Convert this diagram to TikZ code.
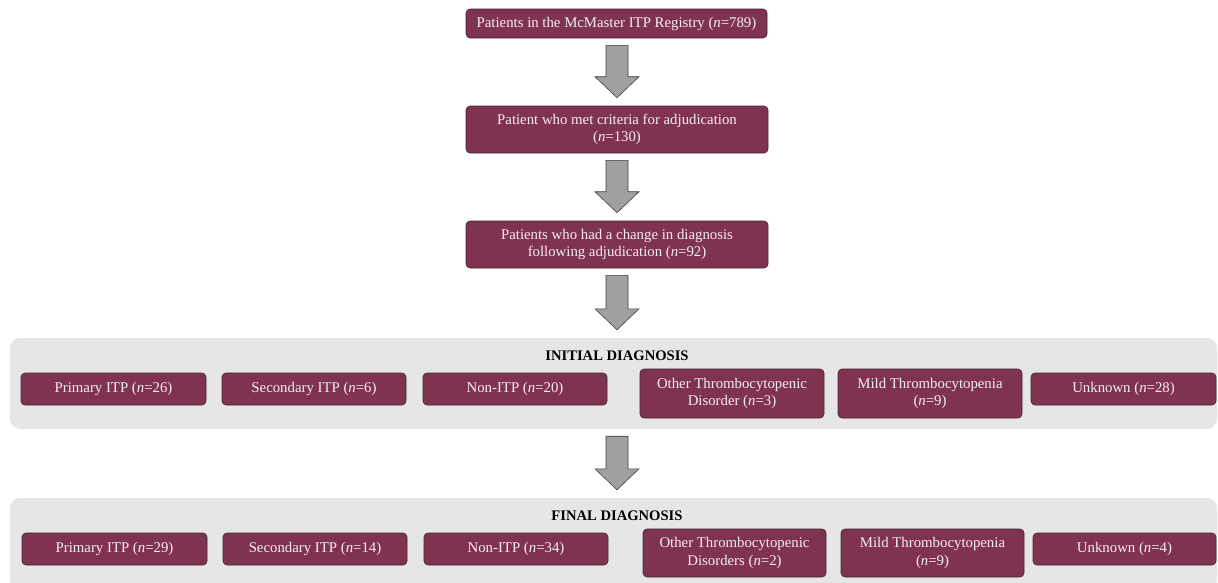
\documentclass[tikz,border=0pt]{standalone}
\usepackage{fontspec}
\setmainfont{Liberation Serif}
\usetikzlibrary{calc}
\definecolor{maroon}{RGB}{128,51,80}
\definecolor{boxline}{RGB}{60,40,48}
\definecolor{panelgray}{RGB}{230,230,230}
\definecolor{arrowgray}{RGB}{160,160,160}
\definecolor{arrowline}{RGB}{64,64,64}
\definecolor{boxtext}{RGB}{245,238,241}
\tikzset{
  box/.style={draw=boxline, line width=0.6pt, fill=maroon, rounded corners=4pt,
    text=boxtext, align=center, inner sep=0pt,
    font=\fontsize{14.8}{17.5}\selectfont},
  panel/.style={fill=panelgray, rounded corners=10pt, inner sep=0pt},
  paneltitle/.style={font=\fontsize{14.6}{17}\selectfont\bfseries, text=black},
  blockarrow/.style={fill=arrowgray, draw=arrowline, line width=0.6pt, line join=miter},
}
\newcommand{\blockarr}[2]{%
  \draw[blockarrow] let \p1=(#1.south), \p2=(#2.north) in
    ({617pt},{\y1-7pt}) -- ({628pt},{\y1-7pt}) -- ({628pt},{\y2+29pt}) -- ({639pt},{\y2+29pt})
    -- ({617pt},{\y2+8pt}) -- ({595pt},{\y2+29pt}) -- ({606pt},{\y2+29pt})
    -- ({606pt},{\y1-7pt}) -- cycle;}
\begin{document}
\begin{tikzpicture}[x=1pt,y=-1pt]
\clip (0,0) rectangle (1218,582);
\useasboundingbox (0,0) rectangle (1218,582);
\node[box, minimum width=301pt, minimum height=29pt] (b1) at (616.5,23.5)
  {Patients in the McMaster ITP Registry (\textit{n}=789)};
\node[box, minimum width=302pt, minimum height=47pt] (b2) at (617,129.5)
  {Patient who met criteria for adjudication\\(\textit{n}=130)};
\node[box, minimum width=302pt, minimum height=47pt] (b3) at (617,244.5)
  {Patients who had a change in diagnosis\\following adjudication (\textit{n}=92)};
\node[panel, minimum width=1207pt, minimum height=91pt] (pan1) at (613.5,383.5) {};
\node[paneltitle] (t1) at (617,356) {INITIAL DIAGNOSIS};
\node[box, minimum width=185pt, minimum height=32pt] (p1) at (113.5,389) {Primary ITP (\textit{n}=26)};
\node[box, minimum width=184pt, minimum height=32pt] (s1) at (314,389) {Secondary ITP (\textit{n}=6)};
\node[box, minimum width=184pt, minimum height=32pt] (n1) at (515,389) {Non-ITP (\textit{n}=20)};
\node[box, minimum width=184pt, minimum height=49pt] (o1) at (732,393.5) {Other Thrombocytopenic\\Disorder (\textit{n}=3)};
\node[box, minimum width=184pt, minimum height=49pt] (m1) at (930,393.5) {Mild Thrombocytopenia\\(\textit{n}=9)};
\node[box, minimum width=185pt, minimum height=32pt] (u1) at (1123.5,389) {Unknown (\textit{n}=28)};
\node[panel, minimum width=1207pt, minimum height=92pt] (pan2) at (613.5,544) {};
\node[paneltitle] (t2) at (617,516) {FINAL DIAGNOSIS};
\node[box, minimum width=185pt, minimum height=32pt] (p2) at (114.5,549) {Primary ITP (\textit{n}=29)};
\node[box, minimum width=184pt, minimum height=32pt] (s2) at (315,549) {Secondary ITP (\textit{n}=14)};
\node[box, minimum width=184pt, minimum height=32pt] (n2) at (516,549) {Non-ITP (\textit{n}=34)};
\node[box, minimum width=183pt, minimum height=48pt] (o2) at (734.5,553) {Other Thrombocytopenic\\Disorders (\textit{n}=2)};
\node[box, minimum width=183pt, minimum height=48pt] (m2) at (932.5,553) {Mild Thrombocytopenia\\(\textit{n}=9)};
\node[box, minimum width=183pt, minimum height=32pt] (u2) at (1124.5,549) {Unknown (\textit{n}=4)};
\blockarr{b1}{b2}
\blockarr{b2}{b3}
\blockarr{b3}{pan1}
\blockarr{pan1}{pan2}
\end{tikzpicture}
\end{document}
